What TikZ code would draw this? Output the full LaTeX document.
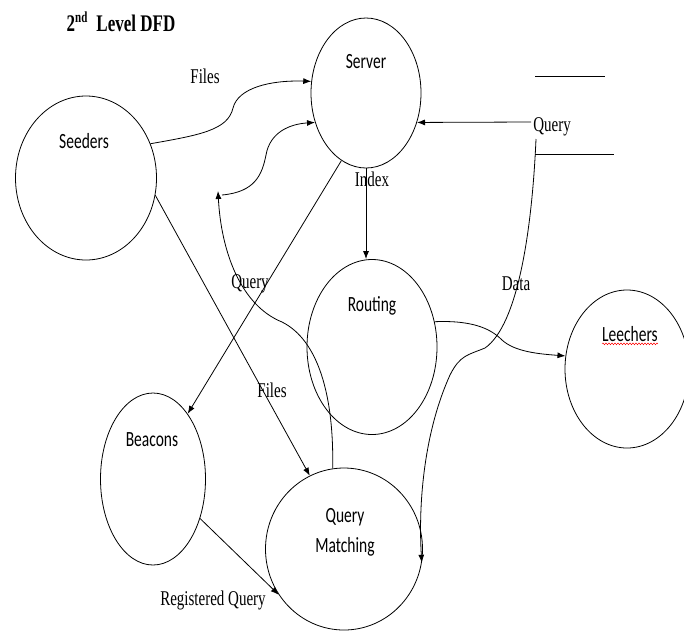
\documentclass[tikz,border=0pt]{standalone}
\usepackage{fontspec}
\setmainfont{Liberation Serif}
\newfontfamily\calfont{Carlito}
\usepackage{graphicx}
\usetikzlibrary{shapes.geometric,arrows.meta,decorations.pathmorphing}
\newcommand{\tallt}[1]{\scalebox{1}[1.4]{#1}}

\begin{document}
\begin{tikzpicture}[x=1pt, y=-1pt,
  every node/.style={inner sep=0pt},
  proc/.style={draw, ellipse, line width=0.8pt},
  ptxt/.style={font=\calfont\fontsize{15.5}{30}\selectfont, align=center},
  ftxt/.style={font=\fontsize{15}{18}\selectfont},
  ar/.style={-{Latex[length=8pt,width=6pt]}, line width=0.8pt}]

\useasboundingbox (0,0) rectangle (684,630);

%% --- Title ---
\node[font=\bfseries\fontsize{17}{20}\selectfont] (TITLE) at (121,22) {\tallt{2\textsuperscript{\fontsize{11}{12}\selectfont nd}\ \ Level DFD}};

%% --- Processes ---
\node[proc, minimum width=141, minimum height=164] (SEED)   at (86,178)  {};
\node[proc, minimum width=110, minimum height=150] (SERVER) at (366,93)  {};
\node[proc, minimum width=130, minimum height=175] (ROUTE)  at (372,347) {};
\node[proc, minimum width=124, minimum height=158] (LEECH)  at (627,369) {};
\node[proc, minimum width=105, minimum height=172] (BEACON) at (153,479) {};
\node[proc, minimum width=157, minimum height=162] (QMATCH) at (344,549) {};

\node[ptxt] (SEEDT)   at (84,141)  {\tallt{Seeders}};
\node[ptxt] (SERVERT) at (366,62)  {\tallt{Server}};
\node[ptxt] (ROUTET)  at (372,306) {\tallt{Routing}};
\node[ptxt] (LEECHT)  at (630,334) {\tallt{Leechers}};
\node[ptxt] (BEACONT) at (152,440) {\tallt{Beacons}};
\node[ptxt] (QMATCHT) at (345,532) {\tallt{Query}\\\tallt{Matching}};
\draw[red, line width=0.5pt, decorate, decoration={snake, amplitude=0.9pt, segment length=3pt}]
  ([yshift=-2]LEECHT.south west) -- ([yshift=-2]LEECHT.south east);

%% --- Data store ---
\draw[line width=0.8pt] (535,76) -- (605,76);
\draw[line width=0.8pt] (535,154) -- (614,154);
\coordinate (QIN)  at (531,122);
\coordinate (DSRC) at (536,139);
\coordinate (QTIP)  at (218,191);
\coordinate (QBEND) at (222,195);

%% --- Flows ---
\draw[ar] (SEED.28) .. controls (200,135) and (228,130) .. (233,108)
  .. controls (238,88) and (270,80) .. (SERVER.168);
\draw[ar] (QMATCH.98) .. controls (334,395) and (318,340) .. (282,322)
  .. controls (240,305) and (221,250) .. (QTIP);
\draw[ar] (QBEND) .. controls (255,192) and (262,175) .. (266,155)
  .. controls (270,132) and (290,124) .. (SERVER.210);
\draw[ar] (SERVER.250) -- (BEACON.62);
\draw[ar] (SEED.-14) -- (QMATCH.115);
\draw[ar] (SERVER.south) -- (SERVER.south |- ROUTE.north);
\draw[ar] (QIN) -- (SERVER.-30);
\draw[ar] (DSRC) .. controls (532,230) and (518,325) .. (485,348)
  .. controls (468,355) and (460,355) .. (450,375)
  .. controls (425,430) and (418,500) .. (QMATCH.-10);
\draw[ar] (ROUTE.22) .. controls (475,320) and (492,330) .. (502,340)
  .. controls (515,352) and (540,354) .. (LEECH.168);
\draw[ar] (BEACON.-40) -- (QMATCH.215);

%% --- Flow labels ---
\node[ftxt] (LFILES1) at (205,76)  {\tallt{Files}};
\node[ftxt] (LQUERY1) at (552,127) {\tallt{Query}};
\node[ftxt] (LINDEX)  at (372,179) {\tallt{Index}};
\node[ftxt] (LQUERY2) at (250,284) {\tallt{Query}};
\node[ftxt] (LDATA)   at (516,284) {\tallt{Data}};
\node[ftxt] (LFILES2) at (272,390) {\tallt{Files}};
\node[ftxt] (LREG)    at (213,600) {\tallt{Registered Query}};
\end{tikzpicture}
\end{document}
